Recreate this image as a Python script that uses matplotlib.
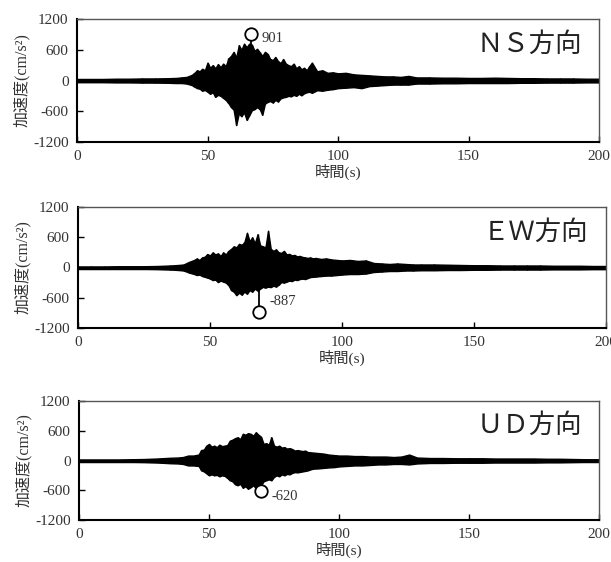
import numpy as np
import matplotlib
matplotlib.use("Agg")
import matplotlib.pyplot as plt

plt.rcParams['font.family'] = ['Liberation Serif', 'Noto Sans CJK JP']
plt.rcParams['axes.unicode_minus'] = False

# envelope sample times (s)
t_env = [0, 5, 10, 15, 20, 25, 30, 35, 38, 40, 42,
         44, 45, 46, 47, 48, 49, 50, 51, 52, 53, 54, 55, 56, 57, 58, 59, 60, 61, 62, 63, 64, 65, 66, 67,
         68, 69, 70, 71, 72, 73, 74, 75, 76, 77, 78, 79, 80, 81, 82, 83, 84, 85, 86, 87, 88, 89, 90,
         92, 94, 96, 98, 100,
         103, 106, 109, 112, 115, 118, 121, 124, 127, 130,
         135, 140, 145, 150, 155, 160, 165, 170, 175, 180, 185, 190, 195, 200]

# NS component envelope (cm/s^2)
ns_up = [30, 30, 30, 35, 35, 40, 40, 45, 50, 60, 70,
         110, 150, 200, 180, 230, 200, 350, 250, 300, 240, 320, 260, 330, 280, 430, 480, 560, 450, 690, 600,
         720, 650, 720, 700, 580, 620, 550, 480, 560, 520, 420, 400, 460, 380, 340, 420, 330, 300, 280, 330,
         240, 280, 220, 250, 200, 280, 350,
         180, 200, 150, 160, 140,
         150, 120, 110, 100, 90, 80, 80, 70, 90, 60,
         60, 55, 55, 50, 50, 55, 50, 45, 45, 40, 40, 40, 35, 35]
ns_lo = [-30, -30, -30, -35, -35, -40, -40, -45, -50, -50, -60,
         -90, -120, -150, -160, -200, -185, -220, -260, -230, -320, -280, -300, -340, -380, -440, -520, -570,
         -870, -640, -700, -620, -770, -680, -580, -560, -520, -560, -670, -450, -420, -400, -430, -380, -410,
         -350, -330, -320, -300, -310, -280, -300, -260, -290, -250, -230, -220, -240,
         -190, -200, -180, -170, -150,
         -140, -130, -150, -110, -100, -90, -80, -80, -80, -60,
         -60, -55, -55, -50, -50, -50, -50, -45, -45, -40, -40, -40, -35, -35]

# EW component envelope
ew_up = [20, 20, 20, 25, 25, 25, 30, 40, 50, 60, 110,
         150, 180, 150, 200, 215, 267, 240, 300, 260, 280, 230, 300, 260, 330, 370, 420, 400, 470, 450, 500,
         690, 520, 600, 480, 660, 440, 420, 400, 730, 370, 330, 360, 300, 290, 330, 260, 270, 240, 250, 220,
         230, 210, 200, 190, 200, 180, 190,
         170, 180, 160, 150, 140,
         150, 130, 140, 90, 80, 70, 80, 70, 60, 60,
         60, 55, 50, 45, 45, 40, 40, 40, 40, 35, 35, 35, 30, 30]
ew_lo = [-20, -20, -20, -25, -25, -25, -30, -40, -50, -60, -100,
         -130, -150, -140, -170, -185, -200, -220, -250, -240, -290, -260, -280, -300, -350, -450, -480, -550,
         -500, -540, -480, -520, -450, -480, -420, -460, -420, -385, -400, -380, -390, -360, -380, -340, -290,
         -300, -280, -260, -270, -240, -250, -230, -220, -230, -210, -190, -185, -180,
         -170, -160, -160, -150, -140,
         -130, -130, -120, -90, -80, -70, -70, -60, -60, -55,
         -55, -50, -50, -45, -45, -40, -40, -40, -40, -35, -35, -35, -30, -30]

# UD component envelope
ud_up = [20, 20, 20, 20, 25, 30, 40, 55, 60, 70, 100,
         100, 110, 120, 212, 220, 300, 335, 280, 300, 270, 320, 290, 300, 310, 400, 420, 450, 470, 430, 540,
         520, 550, 540, 500, 570, 520, 480, 335, 350, 320, 470, 300, 280, 300, 260, 270, 240, 250, 230, 200,
         210, 200, 190, 200, 170, 165, 160,
         150, 140, 120, 110, 100,
         100, 90, 90, 80, 80, 80, 70, 80, 120, 60,
         50, 50, 45, 45, 45, 40, 40, 40, 40, 35, 35, 30, 25, 25]
ud_lo = [-20, -20, -20, -20, -25, -30, -40, -55, -60, -70, -100,
         -100, -105, -110, -200, -220, -260, -300, -280, -300, -290, -320, -300, -310, -350, -400, -420, -480,
         -500, -470, -550, -520, -570, -540, -500, -560, -520, -500, -420, -400, -380, -400, -330, -300, -320,
         -280, -300, -270, -280, -250, -235, -240, -230, -220, -210, -200, -180, -165,
         -160, -150, -140, -135, -120,
         -110, -100, -100, -90, -80, -80, -70, -70, -80, -60,
         -50, -50, -45, -45, -45, -40, -40, -40, -40, -35, -35, -30, -25, -25]

# peak values
peak_t = [66.7, 68.6, 70.0]
peak_v = [901, -887, -620]
peak_lbl = ['901', '-887', '-620']
directions = ['ＮＳ方向', 'ＥＷ方向', 'ＵＤ方向']

uppers = [ns_up, ew_up, ud_up]
lowers = [ns_lo, ew_lo, ud_lo]

W, H = 611, 562
# axes boxes in pixels: left, top, right, bottom
boxes = [(77, 19, 599, 142), (78, 207, 606, 328), (79, 401, 599, 520)]
# label offsets (s, cm/s^2)
lbl_off = [(4, 820), (4, -680), (4, -720)]

fig = plt.figure(figsize=(W / 100, H / 100), dpi=100)

for i in range(3):
    l, t, r, b = boxes[i]
    ax = fig.add_axes([l / W, 1 - b / H, (r - l) / W, (b - t) / H])
    ax.fill_between(t_env, lowers[i], uppers[i], color='black', lw=1.0, edgecolor='black')
    ax.vlines(t_env, lowers[i], uppers[i], color='black', lw=1.0)
    ax.plot([0, 200], [0, 0], color='black', lw=2.5, solid_capstyle='butt')
    ax.vlines(peak_t[i], 0, peak_v[i], color='black', lw=1.3)
    ax.plot(peak_t[i], peak_v[i], 'o', mfc='white', mec='black', ms=9, mew=1.3)
    ax.text(lbl_off[i][0] + peak_t[i], lbl_off[i][1], peak_lbl[i], fontsize=10.5,
            ha='left', va='center', color='#333333')
    ax.text(0.967, 0.79, directions[i], transform=ax.transAxes, fontsize=19,
            ha='right', va='center', color='#222222')

    ax.set_xlim(0, 200)
    ax.set_ylim(-1200, 1200)
    ax.set_xticks([0, 50, 100, 150, 200])
    ax.set_yticks([-1200, -600, 0, 600, 1200])
    ax.tick_params(direction='in', length=4, width=1, labelsize=11, pad=6, colors='black')
    for lab in ax.get_xticklabels() + ax.get_yticklabels():
        lab.set_color('#333333')
    ax.set_xlabel('時間(s)', fontsize=11, labelpad=0, color='#333333')
    ax.set_ylabel('加速度(cm/s²)', fontsize=11.5, labelpad=2, color='#333333')
    for side in ['left', 'bottom']:
        ax.spines[side].set_linewidth(1.5)
        ax.spines[side].set_color('black')
    for side in ['top', 'right']:
        ax.spines[side].set_linewidth(1)
        ax.spines[side].set_color('#555555')

fig.savefig('out.png', dpi=100)
